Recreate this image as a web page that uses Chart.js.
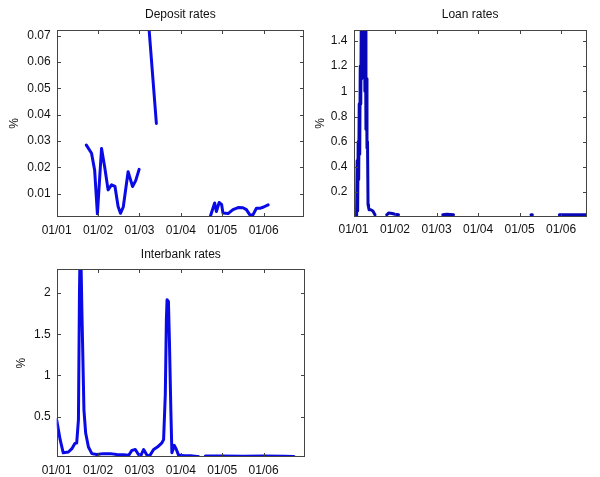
<!DOCTYPE html>
<html>
<head>
<meta charset="utf-8">
<script src="https://cdn.jsdelivr.net/npm/chart.js@4.4.1/dist/chart.umd.min.js"></script>
<style>
  html, body { margin: 0; padding: 0; background: #fff; width: 600px; height: 477px; overflow: hidden; }
  canvas { position: absolute; }
</style>
</head>
<body>
<canvas id="dep" width="320" height="240" style="left:0px;top:0px;"></canvas>
<canvas id="loan" width="300" height="240" style="left:300px;top:0px;"></canvas>
<canvas id="ib" width="320" height="237" style="left:0px;top:240px;"></canvas>
<script>
// ---- data (x in months since 01/01) ----
const xTickMonths = [0, 12, 24, 36, 48, 60];
const xTickLabels = ['01/01', '01/02', '01/03', '01/04', '01/05', '01/06'];

const titles = ['Deposit rates', 'Loan rates', 'Interbank rates'];

const depositYTicks = [0.01, 0.02, 0.03, 0.04, 0.05, 0.06, 0.07];
const depositYLabels = ['0.01', '0.02', '0.03', '0.04', '0.05', '0.06', '0.07'];
const depositMonths = [8.6, 10.1, 11.0, 11.8, 13.0, 13.9, 14.9, 15.9, 16.9, 17.8, 18.5, 19.3, 20.7, 22.0, 22.9, 23.9,
  25.0, 26.2, 28.9, 40.0,
  44.6, 45.8, 46.3, 47.1, 47.8, 48.2, 49.7, 51.1, 52.6, 54.0, 55.0, 56.0, 56.9, 57.9, 58.9, 60.0, 61.3];
const depositValues = [0.0285, 0.0254, 0.019, 0.0024, 0.0272, 0.0203, 0.0115, 0.0134, 0.0128, 0.0052, 0.0026, 0.005, 0.0184, 0.0128, 0.015, 0.0193,
  null, 0.0823, 0.0367, null,
  0.0017, 0.0065, 0.0033, 0.0067, 0.006, 0.0027, 0.0025, 0.004, 0.0048, 0.0047, 0.004, 0.002, 0.002, 0.0045, 0.0045, 0.005, 0.0058];

const loanYTicks = [0.2, 0.4, 0.6, 0.8, 1, 1.2, 1.4];
const loanYLabels = ['0.2', '0.4', '0.6', '0.8', '1', '1.2', '1.4'];
const loanMonths = [0.9, 1.05, 1.2, 1.35, 1.5, 1.65, 1.8, 1.95, 2.1, 2.25, 2.4, 2.55, 2.7, 2.85, 3.0, 3.15, 3.3, 3.45,
  3.6, 3.75, 3.9, 4.05, 4.2, 4.35, 4.5, 5.0, 5.6, 6.2,
  8.0, 9.6, 10.2, 11.2, 12.0, 13.0, 20.0, 25.8, 27.0, 28.9, 40.0, 51.3, 51.7, 55.0, 59.5, 63.5, 67.4];
const loanValues = [0.01, 0.45, 0.05, 0.6, 0.3, 0.9, 0.5, 1.2, 0.9, 1.6, 1.1, 1.6, 1.2, 1.6, 1.3, 1.6, 1.0, 1.5,
  0.7, 1.1, 0.55, 0.6, 0.1, 0.08, 0.06, 0.06, 0.05, 0.02,
  null, 0.02, 0.035, 0.03, 0.025, 0.02, null, 0.02, 0.025, 0.02, null, 0.02, 0.02, null, 0.02, 0.02, 0.02];

const interbankYTicks = [0.5, 1, 1.5, 2];
const interbankYLabels = ['0.5', '1', '1.5', '2'];
const interbankMonths = [0, 1.0, 1.9, 3.4, 4.4, 5.3, 5.8, 6.3, 6.6, 6.8, 7.0, 7.3, 7.6, 7.9, 8.4, 9.2, 10.2, 11.6, 13.5, 15.5, 17.4,
  19.4, 20.9, 21.8, 22.8, 23.7, 24.4, 25.2, 26.1, 26.9, 28.1, 29.2, 30.5, 31.0, 31.5, 31.8, 32.0, 32.4, 32.7, 33.1, 33.4,
  34.1, 34.7, 35.3, 36.8, 38.8, 40.7, 41.1, 42.0, 43.1, 48.0, 54.0, 60.0, 66.0, 68.8];
const interbankValues = [0.46, 0.22, 0.06, 0.07, 0.11, 0.175, 0.18, 0.46, 2.0, 2.6, 2.5, 1.8, 1.19, 0.58, 0.3, 0.13, 0.05, 0.04, 0.05, 0.05, 0.04,
  0.035, 0.03, 0.09, 0.1, 0.04, 0.025, 0.1, 0.035, 0.02, 0.1, 0.13, 0.18, 0.22, 0.78, 1.67, 1.92, 1.9, 1.39, 0.58, 0.06,
  0.15, 0.1, 0.035, 0.025, 0.025, 0.015, 0.015, null, 0.02, 0.02, 0.018, 0.02, 0.018, 0.015];

// ---- helpers ----
const FONT = 'Arial, "Liberation Sans", Helvetica, sans-serif';
const TEXT = '#111';

const boxPlugin = {
  id: 'matlabBox',
  afterDatasetsDraw(chart) {
    const { ctx, chartArea: a, scales: { x, y } } = chart;
    ctx.save();
    ctx.strokeStyle = '#444';
    ctx.lineWidth = 1;
    const l = Math.round(a.left) + 0.5, r = Math.round(a.right) - 0.5;
    const t = Math.round(a.top) + 0.5, b = Math.round(a.bottom) - 0.5;
    ctx.strokeRect(l, t, r - l, b - t);
    const L = 3.5;
    ctx.beginPath();
    x.ticks.forEach(tk => {
      const px = Math.round(x.getPixelForValue(tk.value)) + 0.5;
      if (px < l - 0.5 || px > r + 0.5) return;
      ctx.moveTo(px, b); ctx.lineTo(px, b - L);
      ctx.moveTo(px, t); ctx.lineTo(px, t + L);
    });
    y.ticks.forEach(tk => {
      const py = Math.round(y.getPixelForValue(tk.value)) + 0.5;
      if (py < t - 0.5 || py > b + 0.5) return;
      ctx.moveTo(l, py); ctx.lineTo(l + L, py);
      ctx.moveTo(r, py); ctx.lineTo(r - L, py);
    });
    ctx.stroke();
    ctx.restore();
  }
};

function makeChart(id, cfg) {
  const pts = cfg.months.map((m, i) => ({ x: m, y: cfg.values[i] }));
  return new Chart(document.getElementById(id), {
    type: 'line',
    data: {
      datasets: [{
        data: pts,
        borderColor: cfg.color,
        borderWidth: 3,
        pointRadius: 0,
        tension: 0,
        spanGaps: false,
        clip: 0,
        borderJoinStyle: 'round',
        borderCapStyle: 'round'
      }]
    },
    options: {
      responsive: false,
      animation: false,
      events: [],
      layout: { padding: cfg.padding },
      plugins: {
        legend: { display: false },
        tooltip: { enabled: false },
        title: {
          display: true,
          text: cfg.title,
          fullSize: false,
          color: TEXT,
          font: { family: FONT, size: 12, weight: 'normal', lineHeight: 1.2 },
          padding: cfg.titlePad
        }
      },
      scales: {
        x: {
          type: 'linear',
          min: cfg.xMin,
          max: cfg.xMax,
          grid: { display: false, drawTicks: false, tickLength: 0 },
          border: { display: false },
          afterBuildTicks: s => { s.ticks = xTickMonths.map(v => ({ value: v })); },
          afterFit: s => { s.height = 20; },
          ticks: {
            color: TEXT,
            padding: 6,
            maxRotation: 0,
            autoSkip: false,
            font: { family: FONT, size: 12 },
            callback: v => xTickLabels[xTickMonths.indexOf(v)]
          }
        },
        y: {
          type: 'linear',
          min: cfg.yMin,
          max: cfg.yMax,
          grid: { display: false, drawTicks: false, tickLength: 0 },
          border: { display: false },
          afterBuildTicks: s => { s.ticks = cfg.yTicks.map(v => ({ value: v })); },
          afterFit: s => { s.width = cfg.yWidth; },
          title: {
            display: true,
            text: '%',
            color: TEXT,
            font: { family: FONT, size: 12 },
            padding: { top: 7, bottom: 0 }
          },
          ticks: {
            color: TEXT,
            padding: 6,
            autoSkip: false,
            font: { family: FONT, size: 12 },
            callback: v => cfg.yLabels[cfg.yTicks.indexOf(v)]
          }
        }
      }
    },
    plugins: [boxPlugin]
  });
}

makeChart('dep', {
  months: depositMonths, values: depositValues, title: titles[0], color: '#0a0ae6',
  xMin: 0, xMax: 71.7, yMin: 0.0012, yMax: 0.0722,
  yTicks: depositYTicks, yLabels: depositYLabels,
  padding: { left: 0, right: 16, top: 0, bottom: 3 },
  titlePad: { top: 7.8, bottom: 7.8 }, yWidth: 56.7
});

makeChart('loan', {
  months: loanMonths, values: loanValues, title: titles[1], color: '#0808b8',
  xMin: 0, xMax: 67.4, yMin: 0.005, yMax: 1.487,
  yTicks: loanYTicks, yLabels: loanYLabels,
  padding: { left: 6.2, right: 13.3, top: 0, bottom: 3.3 },
  titlePad: { top: 7.8, bottom: 7.8 }, yWidth: 47.3
});

makeChart('ib', {
  months: interbankMonths, values: interbankValues, title: titles[2], color: '#0a0ae6',
  xMin: 0, xMax: 72, yMin: 0.009, yMax: 2.29,
  yTicks: interbankYTicks, yLabels: interbankYLabels,
  padding: { left: 7.2, right: 15, top: 0, bottom: 0 },
  titlePad: { top: 7.8, bottom: 7.1 }, yWidth: 49.5
});
</script>
</body>
</html>
